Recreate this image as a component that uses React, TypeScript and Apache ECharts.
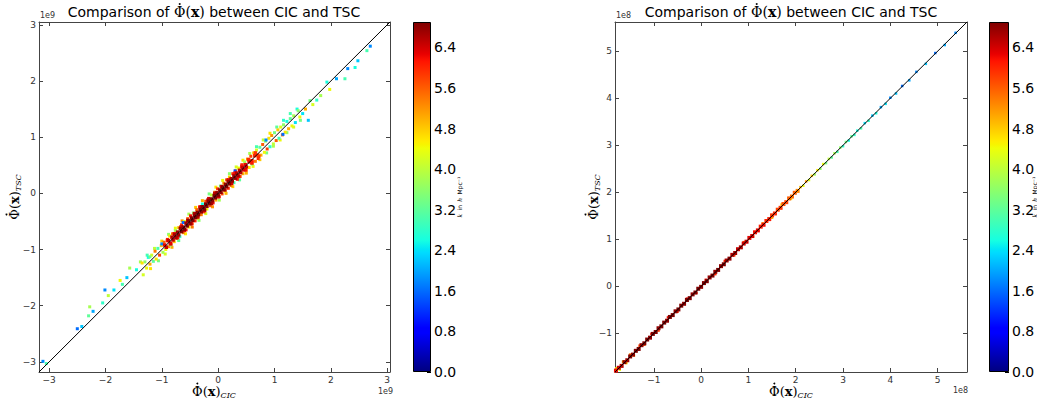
import React, { useEffect, useRef } from 'react';
import * as echarts from 'echarts';

// ---------- data ----------
// left panel values are in units of 1e9, right panel in units of 1e8
const leftLimits = [-3.18, 3.05];
const rightLimits = [-1.82, 5.62];
const leftTicks = [-3, -2, -1, 0, 1, 2, 3];
const rightTicks = [-1, 0, 1, 2, 3, 4, 5];
const colorbarTicks = [0, 0.8, 1.6, 2.4, 3.2, 4.0, 4.8, 5.6, 6.4];
const kMax = 6.9;

// [CIC, TSC, k]
const leftCore = [
  [-0.9,-0.84,6.1],[-0.84,-0.9,6.2],[-0.78,-0.72,6.3],[-0.72,-0.78,6.2],[-0.66,-0.6,6.4],[-0.6,-0.66,6.3],
  [-0.54,-0.48,6.5],[-0.48,-0.54,6.4],[-0.42,-0.36,6.6],[-0.36,-0.42,6.5],[-0.3,-0.24,6.6],[-0.24,-0.3,6.6],
  [-0.18,-0.12,6.5],[-0.12,-0.18,6.6],[-0.06,0.0,6.5],[0.0,-0.06,6.4],[0.06,0.12,6.4],[0.12,0.06,6.5],
  [0.18,0.24,6.3],[0.24,0.18,6.4],[0.3,0.36,6.2],[0.36,0.3,6.3],[0.42,0.48,6.1],[0.48,0.42,6.2],
  [0.54,0.6,6.0],[0.6,0.54,6.1],[0.66,0.72,5.9],[0.72,0.66,6.0],
  [-0.95,-0.92,6.3],[-0.92,-0.96,6.4],[-0.88,-0.84,6.5],[-0.85,-0.89,6.3],[-0.82,-0.78,6.6],[-0.8,-0.83,6.5],
  [-0.77,-0.74,6.7],[-0.75,-0.79,6.6],[-0.72,-0.69,6.8],[-0.7,-0.74,6.7],[-0.67,-0.63,6.8],[-0.65,-0.68,6.9],
  [-0.62,-0.6,6.8],[-0.6,-0.64,6.9],[-0.57,-0.53,6.7],[-0.55,-0.58,6.9],[-0.52,-0.49,6.9],[-0.5,-0.54,6.8],
  [-0.47,-0.44,6.9],[-0.45,-0.48,6.9],[-0.42,-0.39,6.8],[-0.4,-0.43,6.9],[-0.37,-0.34,6.9],[-0.35,-0.38,6.9],
  [-0.32,-0.29,6.9],[-0.3,-0.33,6.8],[-0.27,-0.24,6.9],[-0.25,-0.28,6.9],[-0.22,-0.19,6.9],[-0.2,-0.23,6.8],
  [-0.17,-0.14,6.9],[-0.15,-0.18,6.9],[-0.12,-0.1,6.9],[-0.1,-0.13,6.8],[-0.07,-0.04,6.9],[-0.05,-0.08,6.9],
  [-0.02,0.01,6.8],[0,-0.03,6.9],[0.03,0.06,6.9],[0.05,0.02,6.8],[0.08,0.11,6.9],[0.1,0.07,6.9],
  [0.13,0.16,6.8],[0.15,0.12,6.9],[0.18,0.21,6.8],[0.2,0.17,6.9],[0.23,0.26,6.7],[0.25,0.22,6.8],
  [0.28,0.31,6.7],[0.3,0.27,6.8],[0.33,0.36,6.6],[0.35,0.32,6.7],[0.38,0.41,6.5],[0.4,0.37,6.6],
  [0.43,0.46,6.5],[0.45,0.42,6.4],[0.48,0.51,6.3],[0.5,0.47,6.4],[0.55,0.56,6.2],[0.6,0.58,6.1],
  [0.65,0.67,6.0],[0.7,0.68,5.9],
];
const leftHalo = [
  [-1.3,-1.22,3.6],[-1.27,-1.33,4.4],[-1.24,-1.14,2.6],[-1.21,-1.26,5.0],[-1.18,-1.1,4.2],[-1.15,-1.21,3.2],
  [-1.12,-1.03,5.4],[-1.1,-1.17,4.6],[-1.07,-0.98,3.0],[-1.04,-1.1,5.8],[-1.01,-0.93,4.8],[-0.98,-1.05,3.8],
  [-0.96,-0.87,5.6],[-0.93,-1.0,4.4],[-0.9,-0.82,6.0],[-0.88,-0.95,5.2],
  [-0.86,-0.76,4.6],[-0.84,-0.92,3.4],[-0.81,-0.72,5.4],[-0.78,-0.86,4.8],[-0.76,-0.66,3.8],[-0.73,-0.8,5.8],
  [-0.7,-0.61,5.0],[-0.68,-0.77,2.8],[-0.65,-0.56,6.0],[-0.62,-0.7,5.4],[-0.6,-0.5,4.2],[-0.57,-0.65,6.2],
  [-0.54,-0.45,5.6],[-0.52,-0.6,4.6],[-0.49,-0.4,6.2],[-0.46,-0.54,5.8],[-0.44,-0.35,3.6],[-0.41,-0.49,6.0],
  [-0.38,-0.29,5.6],[-0.36,-0.44,4.8],[-0.33,-0.24,6.2],[-0.3,-0.38,5.4],[-0.28,-0.19,2.6],[-0.25,-0.33,6.0],
  [-0.22,-0.14,5.8],[-0.2,-0.28,4.4],[-0.17,-0.09,6.4],[-0.14,-0.22,5.6],[-0.12,-0.03,4.0],[-0.09,-0.17,6.2],
  [-0.06,0.02,5.4],[-0.04,-0.12,5.0],[-0.01,0.08,6.0],[0.02,-0.06,6.2],[0.04,0.13,3.4],[0.07,-0.01,5.8],
  [0.1,0.18,5.2],[0.12,0.04,4.6],[0.15,0.24,5.8],[0.18,0.09,6.0],
  [0.2,0.29,4.8],[0.23,0.14,5.4],[0.26,0.35,6.0],[0.28,0.19,3.0],[0.31,0.4,5.6],[0.34,0.25,6.2],
  [0.36,0.45,4.4],[0.39,0.3,5.8],[0.42,0.51,6.0],[0.44,0.35,5.0],[0.47,0.56,3.8],[0.5,0.41,5.6],
  [0.52,0.61,5.2],[0.55,0.46,4.6],[0.58,0.66,5.8],[0.6,0.52,3.6],[0.63,0.72,4.8],[0.66,0.57,5.4],
  [0.68,0.77,4.2],[0.71,0.62,6.0],[0.74,0.82,3.2],[0.76,0.68,5.0],
  [0.79,0.87,5.6],[0.82,0.73,4.4],[0.84,0.93,3.6],[0.87,0.79,5.8],[0.9,0.98,4.6],[0.92,0.83,2.8],
  [0.95,1.03,5.2],[0.98,0.88,4.0],[1.0,1.08,3.4],[1.03,0.94,5.6],[1.06,1.13,4.8],[1.08,0.98,3.0],
  [1.11,1.18,4.2],[1.14,1.04,5.4],[1.16,1.22,3.6],[1.19,1.09,4.6],[1.22,1.28,2.6],[1.25,1.15,5.0],
  [1.28,1.33,3.2],[1.31,1.2,4.4],[1.34,1.38,3.8],[1.37,1.26,2.4],
  [-0.62,-0.52,1.6],[0.3,0.4,1.4],[0.85,0.95,1.8],[-1.0,-0.9,1.8],[1.15,1.05,1.6],
  [-1.21,-1.13,3.4],[-1.35,-1.24,4.6],[-1.45,-1.36,2.6],[-1.57,-1.33,3.8],[-1.62,-1.5,2.2],[-1.74,-1.55,4.4],
  [-1.7,-1.62,3.0],[-1.85,-1.72,2.4],[-2.01,-1.72,1.8],[-1.95,-1.82,4.0],[-2.05,-1.95,2.8],[-2.28,-2.02,3.8],
  [-2.22,-2.1,2.0],[-2.3,-2.18,3.2],[-2.42,-2.37,2.2],[-2.5,-2.41,1.6],[-3.11,-2.99,1.8],[-3.05,-3.03,3.0],
  [1.42,1.47,3.6],[1.45,1.36,4.4],[1.5,1.42,2.4],[1.55,1.5,5.0],[1.6,1.3,2.2],[1.63,1.65,3.4],
  [1.68,1.58,4.2],[1.75,1.66,2.8],[1.82,1.74,3.8],[1.93,1.98,2.6],[1.98,1.85,4.4],[2.1,2.04,2.0],
  [2.25,2.04,3.0],[2.3,2.22,1.8],[2.43,2.24,2.6],[2.48,2.36,2.2],[2.64,2.54,3.0],[2.7,2.62,1.8],
];
const leftOuter = [
  [-1.38,-1.22,3.8],[-1.33,-1.45,4.2],[-1.26,-1.1,3.0],[-1.2,-1.34,4.6],[-1.13,-0.98,4.0],[-1.06,-1.2,3.4],
  [-1.0,-0.85,4.8],[-0.94,-1.08,4.2],[-0.88,-0.73,3.6],[-0.82,-0.96,5.0],[-0.76,-0.62,4.4],[-0.7,-0.84,3.2],
  [-0.64,-0.49,5.2],[-0.58,-0.72,4.6],[-0.52,-0.37,3.8],[-0.46,-0.6,5.4],[-0.4,-0.25,4.8],[-0.34,-0.48,3.6],
  [-0.28,-0.13,5.0],[-0.22,-0.36,4.2],[-0.16,-0.01,3.4],[-0.1,-0.24,5.2],[-0.04,0.11,4.6],[0.02,-0.12,3.8],
  [0.08,0.23,4.4],[0.14,0.0,5.0],[0.2,0.35,3.6],[0.26,0.12,4.8],[0.32,0.47,4.2],[0.38,0.24,3.2],
  [0.44,0.59,4.6],[0.5,0.36,5.0],[0.56,0.71,3.8],[0.62,0.48,4.4],[0.68,0.83,3.0],[0.74,0.6,4.8],
  [0.8,0.95,4.0],[0.86,0.72,3.4],[0.92,1.07,4.6],[0.98,0.84,3.8],[1.04,1.18,3.2],[1.1,0.95,4.4],
  [1.16,1.3,2.8],[1.22,1.08,3.6],[1.28,1.42,3.0],[1.34,1.18,4.2],[1.4,1.5,2.6],[1.46,1.3,3.4],
];
const rightCore = [
  [-1.8,-1.79,6.2],[-1.74,-1.73,6.5],[-1.68,-1.69,6.6],[-1.62,-1.61,6.8],[-1.56,-1.57,6.7],[-1.5,-1.49,6.9],
  [-1.44,-1.45,6.8],[-1.38,-1.37,6.9],[-1.32,-1.33,6.9],[-1.26,-1.25,6.8],[-1.2,-1.21,6.9],[-1.14,-1.13,6.9],
  [-1.08,-1.09,6.8],[-1.02,-1.01,6.9],[-0.96,-0.97,6.9],[-0.9,-0.89,6.8],[-0.84,-0.85,6.9],[-0.78,-0.77,6.9],
  [-0.72,-0.73,6.8],[-0.66,-0.65,6.9],[-0.6,-0.61,6.9],[-0.54,-0.53,6.8],[-0.48,-0.49,6.9],[-0.42,-0.41,6.9],
  [-0.36,-0.37,6.8],[-0.3,-0.29,6.9],[-0.24,-0.25,6.9],[-0.18,-0.17,6.8],[-0.12,-0.13,6.9],[-0.06,-0.05,6.9],
  [0,-0.01,6.8],[0.06,0.07,6.9],[0.12,0.11,6.9],[0.18,0.19,6.8],[0.24,0.23,6.9],[0.3,0.31,6.8],
  [0.36,0.35,6.9],[0.42,0.43,6.8],[0.48,0.47,6.9],[0.54,0.55,6.7],[0.6,0.59,6.8],[0.66,0.67,6.6],
  [0.72,0.71,6.7],[0.78,0.79,6.5],[0.84,0.83,6.6],[0.9,0.91,6.4],[0.96,0.95,6.5],[1.02,1.03,6.3],
  [1.08,1.07,6.4],[1.14,1.15,6.2],[1.2,1.19,6.3],[1.26,1.27,6.1],[1.32,1.31,6.2],[1.38,1.39,6.0],
  [1.44,1.43,6.1],[1.5,1.51,5.9],[1.56,1.55,6.0],[1.62,1.63,5.8],[1.68,1.67,5.9],[1.74,1.75,5.7],
  [1.8,1.79,5.8],[1.86,1.87,5.6],[1.92,1.91,5.5],[1.98,1.99,5.6],[2.04,2.03,5.3],
];
const rightHalo = [
  [-1.79,-1.74,4.6],[-1.72,-1.77,4.4],[-1.65,-1.6,5.0],[-1.58,-1.63,4.8],[-1.5,-1.45,5.4],[-1.42,-1.47,5.2],
  [-1.3,-1.26,5.8],[-1.2,-1.24,5.6],[-1.05,-1.01,6.0],[-0.9,-0.94,5.8],[-0.7,-0.66,6.2],[-0.5,-0.54,6.0],
  [-0.3,-0.26,6.2],[-0.1,-0.14,6.0],[0.1,0.14,6.2],[0.3,0.26,6.0],[0.5,0.54,6.0],[0.7,0.66,5.8],
  [0.9,0.94,5.6],[1.1,1.06,5.4],[1.3,1.34,5.2],[1.5,1.46,5.0],[1.7,1.74,4.8],[1.9,1.86,4.6],
  [2.1,2.11,5.0],[2.16,2.14,4.4],[2.22,2.23,5.2],[2.28,2.26,4.2],[2.34,2.35,4.8],[2.4,2.38,3.8],
  [2.46,2.47,4.6],[2.52,2.5,3.6],[2.58,2.6,4.4],[2.64,2.62,3.4],[2.7,2.71,4.0],[2.76,2.74,3.2],
  [2.82,2.83,3.8],[2.88,2.86,3.0],[2.94,2.95,3.6],[3.0,2.98,2.8],[3.06,3.07,3.4],[3.12,3.1,2.6],
  [3.18,3.19,3.2],[3.24,3.22,2.8],[3.3,3.31,2.6],[3.38,3.36,3.0],[3.46,3.47,2.4],[3.54,3.52,2.8],
  [3.62,3.63,2.2],[3.7,3.68,2.6],[3.8,3.81,2.0],[3.9,3.88,2.4],[4.0,4.01,1.8],[4.12,4.1,2.2],
  [4.25,4.26,1.6],[4.4,4.38,2.0],[4.55,4.56,1.8],[4.75,4.73,2.2],[4.95,4.96,1.6],[5.15,5.13,2.0],
  [5.38,5.39,1.8],
];

// ---------- jet colormap (style) ----------
const jetStops: [number, number[]][] = [
  [0, [0, 0, 128]], [0.11, [0, 0, 255]], [0.125, [0, 0, 255]], [0.34, [0, 219, 255]],
  [0.35, [0, 229, 247]], [0.375, [21, 255, 226]], [0.64, [239, 255, 8]], [0.65, [247, 245, 0]],
  [0.66, [255, 236, 0]], [0.89, [255, 19, 0]], [0.91, [232, 0, 0]], [1, [128, 0, 0]],
];
const rgb = (c: number[]) => `rgb(${Math.round(c[0])},${Math.round(c[1])},${Math.round(c[2])})`;
function jetAt(t: number) {
  for (let i = 1; i < jetStops.length; i++) {
    const [o1, c1] = jetStops[i];
    const [o0, c0] = jetStops[i - 1];
    if (t <= o1) {
      const f = o1 === o0 ? 0 : (t - o0) / (o1 - o0);
      return rgb(c0.map((v, j) => v + (c1[j] - v) * f));
    }
  }
  return rgb(jetStops[jetStops.length - 1][1]);
}
const jetPalette = Array.from({ length: 41 }, (_, i) => jetAt(i / 40));

const minus = (v: number) => (v < 0 ? '\u2212' + Math.abs(v) : String(v));
const AX = '#444';
const SANS = "'DejaVu Sans', sans-serif";
const SERIF = "'DejaVu Serif', serif";

function mainAxis(kind: 'x' | 'y', grid: number, lim: number[], ticks: number[]) {
  return {
    type: 'value', gridIndex: grid, min: lim[0], max: lim[1],
    position: kind === 'x' ? 'bottom' : 'left',
    axisLine: { show: true, onZero: false, lineStyle: { color: AX, width: 1 } },
    axisTick: { show: true, inside: true, length: 4, customValues: ticks, lineStyle: { color: AX } },
    axisLabel: { show: true, customValues: ticks, formatter: minus, fontSize: 9, color: '#333', fontFamily: SANS, margin: 3 },
    splitLine: { show: false },
  };
}
function mirrorAxis(kind: 'x' | 'y', grid: number, lim: number[], ticks: number[]) {
  return {
    type: 'value', gridIndex: grid, min: lim[0], max: lim[1],
    position: kind === 'x' ? 'top' : 'right',
    axisLine: { show: true, onZero: false, lineStyle: { color: AX, width: 1 } },
    axisTick: { show: true, inside: true, length: 4, customValues: ticks, lineStyle: { color: AX } },
    axisLabel: { show: false },
    splitLine: { show: false },
  };
}
function cbCat(grid: number) {
  return { type: 'category', gridIndex: grid, data: ['k'], show: false };
}
function cbVal(grid: number, gap: number) {
  return {
    type: 'value', gridIndex: grid, min: 0, max: kMax, position: 'right',
    axisLine: { show: false },
    axisTick: { show: true, inside: true, length: 4, customValues: colorbarTicks, lineStyle: { color: '#000' } },
    axisLabel: { show: true, customValues: colorbarTicks, formatter: (v: number) => v.toFixed(1), fontSize: 14, color: '#000', fontFamily: SANS, margin: 3 },
    splitLine: { show: false },
    name: '{i|k} {r|in} {i|h} {r|Mpc\u207B\u00B9}', nameLocation: 'middle', nameGap: gap, nameRotate: 90,
    nameMoveOverlap: false,
    nameTextStyle: { rich: { i: { fontSize: 6, fontStyle: 'italic', fontFamily: SERIF, color: '#000' }, r: { fontSize: 6, fontFamily: SANS, color: '#000' } } },
  };
}
const cbGradient = () => new echarts.graphic.LinearGradient(0, 1, 0, 0,
  jetStops.map(([o, c]) => ({ offset: o, color: rgb(c) })));

function scatter(data: number[][], xi: number, yi: number, size: number) {
  return { type: 'scatter', xAxisIndex: xi, yAxisIndex: yi, data, symbol: 'rect', symbolSize: size, silent: true, itemStyle: { opacity: 1 } };
}
function diag(lim: number[], xi: number, yi: number) {
  return {
    type: 'line', xAxisIndex: xi, yAxisIndex: yi, data: [[lim[0], lim[0]], [lim[1], lim[1]]],
    symbol: 'none', silent: true, z: 5, lineStyle: { color: '#000', width: 1 },
  };
}
function cbBar(xi: number, yi: number) {
  return {
    type: 'bar', xAxisIndex: xi, yAxisIndex: yi, data: [kMax], barWidth: '100%', silent: true,
    itemStyle: { color: cbGradient(), borderColor: '#000', borderWidth: 1 },
  };
}

// ----- math-like labels: pieces laid out left to right, with a dot over Φ -----
type Piece = { t: string; font: string; dy?: number; dot?: boolean };
let measureCtx: CanvasRenderingContext2D | null = null;
function tw(text: string, font: string) {
  if (!measureCtx) measureCtx = document.createElement('canvas').getContext('2d');
  measureCtx!.font = font;
  return measureCtx!.measureText(text).width;
}
function mathGroup(x: number, y: number, rotation: number, pieces: Piece[], dotY: number) {
  const widths = pieces.map((p) => tw(p.t, p.font));
  const total = widths.reduce((a, b) => a + b, 0);
  let cur = -total / 2;
  const children: any[] = [];
  pieces.forEach((p, i) => {
    children.push({
      type: 'text', x: cur, y: p.dy || 0,
      style: { text: p.t, font: p.font, fill: '#000', textAlign: 'left', textVerticalAlign: 'middle' },
    });
    if (p.dot) {
      const wPhi = tw('\u03A6', p.font);
      children.push({ type: 'circle', shape: { cx: cur + wPhi / 2, cy: dotY, r: 0.95 }, style: { fill: '#000' } });
    }
    cur += widths[i];
  });
  return { type: 'group', x, y, rotation, silent: true, children };
}
const axisNamePieces = (sub: string): Piece[] => [
  { t: '\u03A6(', font: `13px ${SERIF}`, dot: true },
  { t: 'x', font: `bold 13px ${SERIF}` },
  { t: ')', font: `13px ${SERIF}` },
  { t: sub, font: `italic 8px ${SERIF}`, dy: 4 },
];
const titlePieces: Piece[] = [
  { t: 'Comparison of ', font: `14px ${SANS}` },
  { t: '\u03A6(', font: `14px ${SERIF}`, dot: true },
  { t: 'x', font: `bold 14px ${SERIF}` },
  { t: ')', font: `14px ${SERIF}` },
  { t: ' between CIC and TSC', font: `14px ${SANS}` },
];
const offsetText = (x: number, y: number, text: string, align: string) => ({
  type: 'text', x, y, style: { text, font: `8px ${SANS}`, fill: '#333', textAlign: align, textVerticalAlign: 'middle' },
});

export default function App() {
  const ref = useRef<HTMLDivElement>(null);
  useEffect(() => {
    if (!ref.current) return;
    const chart = echarts.init(ref.current, null, { renderer: 'svg' });
    const gridBase = { show: false, containLabel: false, outerBoundsMode: 'none' };
    chart.setOption({
      animation: false,
      backgroundColor: '#fff',
      grid: [
        { ...gridBase, left: 39, top: 22, width: 351, height: 350 },
        { ...gridBase, left: 413, top: 22, width: 18, height: 350 },
        { ...gridBase, left: 615, top: 22, width: 352, height: 350 },
        { ...gridBase, left: 989, top: 22, width: 20, height: 350 },
      ],
      xAxis: [
        mainAxis('x', 0, leftLimits, leftTicks),
        mirrorAxis('x', 0, leftLimits, leftTicks),
        cbCat(1),
        mainAxis('x', 2, rightLimits, rightTicks),
        mirrorAxis('x', 2, rightLimits, rightTicks),
        cbCat(3),
      ],
      yAxis: [
        mainAxis('y', 0, leftLimits, leftTicks),
        mirrorAxis('y', 0, leftLimits, leftTicks),
        cbVal(1, 22),
        mainAxis('y', 2, rightLimits, rightTicks),
        mirrorAxis('y', 2, rightLimits, rightTicks),
        cbVal(3, 19),
      ],
      visualMap: {
        show: false, type: 'continuous', dimension: 2, min: 0, max: kMax,
        seriesIndex: [0, 1, 2, 5, 6], inRange: { color: jetPalette },
      },
      series: [
        scatter(leftOuter, 0, 0, 3),
        scatter(leftHalo, 0, 0, 3),
        scatter(leftCore, 0, 0, 3.5),
        diag(leftLimits, 0, 0),
        cbBar(2, 2),
        scatter(rightHalo, 3, 3, 2.5),
        scatter(rightCore, 3, 3, 4),
        diag(rightLimits, 3, 3),
        cbBar(5, 5),
      ],
      graphic: [
        mathGroup(214, 12, 0, titlePieces, -8),
        mathGroup(791, 12, 0, titlePieces, -8),
        mathGroup(214, 391, 0, axisNamePieces('CIC'), -7.5),
        mathGroup(791, 391, 0, axisNamePieces('CIC'), -7.5),
        mathGroup(14, 197, Math.PI / 2, axisNamePieces('TSC'), -7.5),
        mathGroup(593, 197, Math.PI / 2, axisNamePieces('TSC'), -7.5),
        offsetText(40, 15, '1e9', 'left'),
        offsetText(393, 391, '1e9', 'right'),
        offsetText(616, 15, '1e8', 'left'),
        offsetText(968, 390, '1e8', 'right'),
      ],
    });
    return () => chart.dispose();
  }, []);
  return <div ref={ref} style={{ position: 'absolute', left: 0, top: 0, width: 1037, height: 405 }} />;
}
